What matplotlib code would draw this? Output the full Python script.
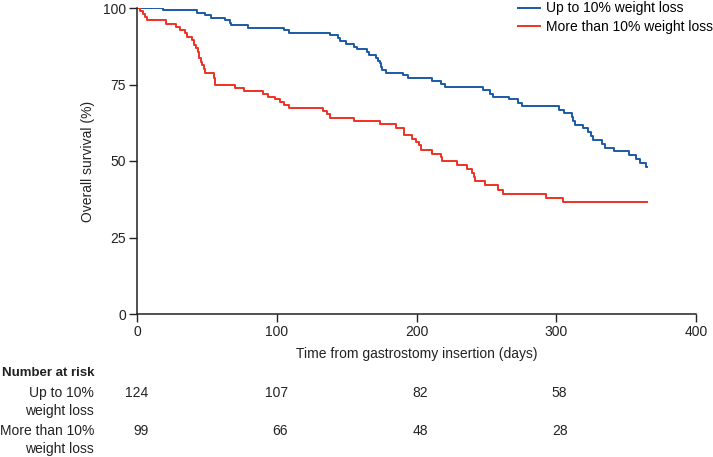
import matplotlib
matplotlib.use('Agg')
import matplotlib.pyplot as plt
import matplotlib.transforms as mtransforms

# --- Kaplan-Meier steps (days, % surviving) ---
up_to_10_days = [0, 18.8, 42.6, 49, 53, 63, 66.4, 67.6, 79.5, 105.5, 109, 138, 143.8,
                 145, 149.8, 155, 157.4, 164.5, 166, 171.2, 172.4, 173.6, 174.8, 175.5,
                 177.9, 190.2, 193.8, 211, 217.6, 220.7, 247.9, 252.9, 255, 266.4, 272.4,
                 275.5, 302.3, 305.2, 311, 312, 313.3, 319.3, 323, 324.8, 326, 333, 335,
                 341.4, 352, 357, 360, 364, 365]
up_to_10_surv = [100, 99.2, 98.4, 97.6, 96.8, 96.0, 95.2, 94.4, 93.5, 92.7, 91.9, 91.1, 90.2,
                 89.2, 88.2, 87.3, 86.5, 85.5, 84.6, 83.7, 82.7, 81.9, 80.8, 79.7,
                 78.9, 78.0, 77.0, 76.2, 75.2, 74.2, 73.1, 72.0, 71.0, 70.1, 69.0,
                 67.9, 66.8, 65.6, 64.4, 63.1, 61.9, 60.7, 59.4, 58.3, 57.0, 55.6, 54.4,
                 53.2, 51.8, 50.5, 49.3, 48.0, 48.0]

over_10_days = [0, 2, 4, 5.7, 7.5, 20.5, 27.6, 30.7, 34.3, 35.5, 39.5, 40.7, 42, 43.8, 44.5,
                45.5, 46.7, 48, 49, 55, 55.7, 70, 76.6, 90.2, 93.8, 98.6, 102, 105, 109,
                133, 136, 138.4, 155, 173.6, 185, 191, 196.6, 199.9, 201.8, 203, 211.3,
                217.3, 218.4, 229, 236.3, 239.4, 241, 242, 249.3, 258, 262, 293, 304.5, 365]
over_10_surv = [100, 99.0, 98.0, 97.0, 96.0, 94.9, 93.9, 92.9, 91.9, 90.6, 89.5, 87.9, 86.8,
                85.7, 83.8, 82.4, 81.3, 80.2, 78.6, 77.0, 74.8, 73.7, 72.9, 72.0, 71.0,
                70.2, 69.4, 68.4, 67.3, 66.3, 65.2, 64.1, 63.1, 62.0, 60.9, 58.5, 57.3,
                56.2, 55.1, 53.7, 52.4, 51.3, 49.9, 48.8, 47.5, 46.0, 44.7, 43.4, 42.0,
                40.6, 39.3, 37.9, 36.5, 36.5]

group_labels = ['Up to 10% weight loss', 'More than 10% weight loss']
risk_row_labels = ['Up to 10%\nweight loss', 'More than 10%\nweight loss']
risk_times = [0, 100, 200, 300]
risk_up_to_10 = [124, 107, 82, 58]
risk_over_10 = [99, 66, 48, 28]

BLUE = '#1a5aa6'
RED = '#ee3124'
INK = '#222222'
FS = 10

plt.rcParams['font.family'] = ['Liberation Sans', 'DejaVu Sans']
plt.rcParams['font.size'] = FS

fig = plt.figure(figsize=(7.13, 4.57), dpi=100)
W, H = 713, 457
ax = fig.add_axes([137 / W, 1 - 314 / H, (696 - 137) / W, (314 - 8) / H])

ax.step(up_to_10_days, up_to_10_surv, where='post', color=BLUE, lw=1.4, label=group_labels[0])
ax.step(over_10_days, over_10_surv, where='post', color=RED, lw=1.4, label=group_labels[1])

ax.set_xlim(0, 400)
ax.set_ylim(0, 100)
ax.set_xticks([0, 100, 200, 300, 400])
ax.set_yticks([0, 25, 50, 75, 100])
for side in ['top', 'right']:
    ax.spines[side].set_visible(False)
for side in ['left', 'bottom']:
    ax.spines[side].set_linewidth(1.1)
    ax.spines[side].set_color(INK)
ax.tick_params(direction='out', length=5.5, width=1.0, pad=2.5, labelsize=FS, colors=INK)
ax.set_xlabel('Time from gastrostomy insertion (days)', fontsize=FS, labelpad=6, color=INK)
ax.set_ylabel('Overall survival (%)', fontsize=FS, labelpad=5.5, color=INK)

leg = fig.legend(loc='upper right', bbox_to_anchor=(1.0, 0.997), frameon=False, fontsize=FS,
                 handlelength=1.65, handletextpad=0.4, labelspacing=0.3, borderaxespad=0,
                 borderpad=0)

# --- Number at risk table below the axis ---
risk_x = 94 / W
fig.text(risk_x, 1 - 373 / H, 'Number at risk', ha='right', va='center',
         fontweight='bold', fontsize=9.5, color=INK)
row_y = [1 - 402 / H, 1 - 440 / H]
for lab, yy in zip(risk_row_labels, row_y):
    fig.text(risk_x, yy, lab, ha='right', va='center', fontsize=FS,
             linespacing=1.3, color=INK)

trans = mtransforms.blended_transform_factory(ax.transData, fig.transFigure)
for counts, yy in zip([risk_up_to_10, risk_over_10], [1 - 393 / H, 1 - 431 / H]):
    for t, n in zip(risk_times, counts):
        ax.text(t + 8, yy, str(n), transform=trans, ha='right', va='center',
                fontsize=FS, color=INK, clip_on=False)

fig.savefig('out.png', dpi=100)
